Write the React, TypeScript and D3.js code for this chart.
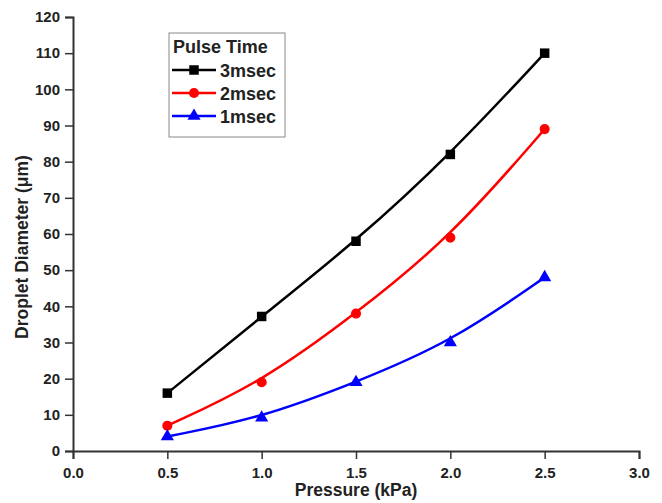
import React, { useEffect, useRef } from "react";
import * as d3 from "d3";

const pressure = [0.5, 1.0, 1.5, 2.0, 2.5];
const series = [
  { name: "3msec", color: "#000000", shape: "square", values: [16, 37.2, 58, 82, 110] },
  { name: "2msec", color: "#ff0000", shape: "circle", values: [7, 19, 38, 59, 89] },
  { name: "1msec", color: "#0000ff", shape: "triangle", values: [4, 9.2, 19, 30, 48] },
];
const xTicks = [0, 0.5, 1.0, 1.5, 2.0, 2.5, 3.0];
const yTicks = d3.range(0, 121, 10);

const W = 662;
const H = 503;
const margin = { top: 17, right: 23, bottom: 52, left: 73 };
const font = "'Liberation Sans', Arial, sans-serif";

const symbolFor = (shape: string) =>
  shape === "square" ? d3.symbolSquare : shape === "circle" ? d3.symbolCircle : d3.symbolTriangle;
const sizeFor = (shape: string) => (shape === "square" ? 90 : shape === "circle" ? 80 : 75);

const App = () => {
  const ref = useRef<SVGSVGElement | null>(null);

  useEffect(() => {
    if (!ref.current) return;
    const svg = d3.select(ref.current);
    svg.selectAll("*").remove();

    const x = d3.scaleLinear().domain([0, 3]).range([margin.left, W - margin.right]);
    const y = d3.scaleLinear().domain([0, 120]).range([H - margin.bottom, margin.top]);

    // x axis: minor ticks first, then labelled majors
    const gx = svg.append("g").attr("transform", `translate(0,${y(0)})`);
    gx.call(
      d3.axisBottom(x).tickValues(d3.range(0, 3.01, 0.25)).tickSize(5).tickFormat(() => "")
    );
    gx.call(
      d3.axisBottom(x).tickValues(xTicks).tickSize(8).tickPadding(8).tickFormat(d3.format(".1f"))
    );
    // y axis
    const gy = svg.append("g").attr("transform", `translate(${x(0)},0)`);
    gy.call(d3.axisLeft(y).tickValues(d3.range(0, 121, 5)).tickSize(5).tickFormat(() => ""));
    gy.call(d3.axisLeft(y).tickValues(yTicks).tickSize(8).tickPadding(5));

    svg.selectAll(".domain").attr("stroke", "#333").attr("stroke-width", 2);
    svg.selectAll(".tick line").attr("stroke", "#333").attr("stroke-width", 1.5);
    svg
      .selectAll(".tick text")
      .attr("font-family", font)
      .attr("font-weight", "bold")
      .attr("font-size", 15)
      .attr("fill", "#222");

    // smoothed curves
    const line = d3
      .line<number>()
      .x((_, i) => x(pressure[i]))
      .y((d) => y(d))
      .curve(d3.curveBasis);

    series.forEach((s) => {
      svg
        .append("path")
        .attr("d", line(s.values))
        .attr("fill", "none")
        .attr("stroke", s.color)
        .attr("stroke-width", 2.5);
      svg
        .selectAll(null)
        .data(s.values)
        .enter()
        .append("path")
        .attr("d", d3.symbol(symbolFor(s.shape), sizeFor(s.shape))())
        .attr("transform", (d, i) => `translate(${x(pressure[i])},${y(d)})`)
        .attr("fill", s.color);
    });

    // axis titles
    svg
      .append("text")
      .attr("x", (x(0) + x(3)) / 2)
      .attr("y", 496)
      .attr("text-anchor", "middle")
      .attr("font-family", font)
      .attr("font-weight", "bold")
      .attr("font-size", 17.5)
      .attr("fill", "#222")
      .text("Pressure (kPa)");
    svg
      .append("text")
      .attr("transform", `translate(28,247) rotate(-90)`)
      .attr("text-anchor", "middle")
      .attr("font-family", font)
      .attr("font-weight", "bold")
      .attr("font-size", 17.5)
      .attr("fill", "#222")
      .text("Droplet Diameter (\u03bcm)");

    // legend
    const lg = svg.append("g").attr("transform", "translate(169,33)");
    lg.append("rect")
      .attr("width", 116)
      .attr("height", 104)
      .attr("fill", "white")
      .attr("stroke", "#888")
      .attr("stroke-width", 1);
    lg.append("text")
      .attr("x", 4)
      .attr("y", 20)
      .attr("font-family", font)
      .attr("font-weight", "bold")
      .attr("font-size", 18)
      .attr("fill", "#222")
      .text("Pulse Time");
    series.forEach((s, i) => {
      const cy = 37 + i * 23;
      lg.append("line")
        .attr("x1", 3)
        .attr("x2", 47)
        .attr("y1", cy)
        .attr("y2", cy)
        .attr("stroke", s.color)
        .attr("stroke-width", 2.5);
      lg.append("path")
        .attr("d", d3.symbol(symbolFor(s.shape), sizeFor(s.shape))())
        .attr("transform", `translate(25,${cy})`)
        .attr("fill", s.color);
      lg.append("text")
        .attr("x", 51)
        .attr("y", cy + 6.5)
        .attr("font-family", font)
        .attr("font-weight", "bold")
        .attr("font-size", 18)
        .attr("fill", "#222")
        .text(s.name);
    });
  }, []);

  return (
    <svg
      ref={ref}
      width={W}
      height={H}
      style={{ position: "absolute", left: 0, top: 0, background: "white" }}
    />
  );
};

export default App;
